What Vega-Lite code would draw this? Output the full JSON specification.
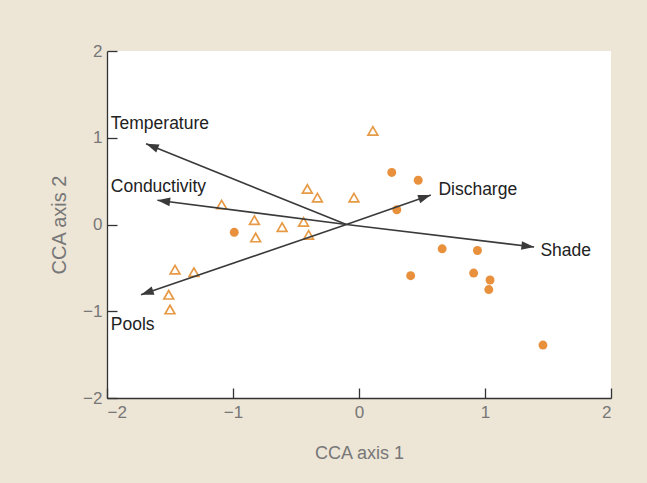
{
  "$schema": "https://vega.github.io/schema/vega-lite/v6.json",
  "width": 504,
  "height": 347,
  "autosize": {"type": "none"},
  "padding": {"left": 107, "top": 51, "right": 36, "bottom": 85},
  "background": "#ede5d6",
  "config": {
    "font": "Liberation Sans",
    "view": {"fill": "#ffffff", "stroke": null},
    "axis": {
      "grid": false,
      "domainColor": "#333333",
      "domainWidth": 1.3,
      "tickColor": "#333333",
      "tickWidth": 1.3,
      "tickSize": -10,
      "labelColor": "#777777",
      "labelFontSize": 17,
      "titleColor": "#777777",
      "titleFontWeight": "normal",
      "titleFont": "Liberation Sans",
      "labelFont": "Liberation Sans",
      "format": "d"
    }
  },
  "datasets": {
    "triangles": [
      {"x": 0.11, "y": 1.08},
      {"x": -0.41, "y": 0.41},
      {"x": -0.33, "y": 0.31},
      {"x": -0.04, "y": 0.31},
      {"x": -1.09, "y": 0.23},
      {"x": -0.83, "y": 0.05},
      {"x": -0.61, "y": -0.03},
      {"x": -0.44, "y": 0.03},
      {"x": -0.82, "y": -0.15},
      {"x": -0.40, "y": -0.12},
      {"x": -1.46, "y": -0.52},
      {"x": -1.31, "y": -0.55},
      {"x": -1.51, "y": -0.81},
      {"x": -1.50, "y": -0.98}
    ],
    "circles": [
      {"x": -0.99, "y": -0.09},
      {"x": 0.26, "y": 0.60},
      {"x": 0.47, "y": 0.51},
      {"x": 0.30, "y": 0.17},
      {"x": 0.66, "y": -0.28},
      {"x": 0.94, "y": -0.30},
      {"x": 0.41, "y": -0.59},
      {"x": 0.91, "y": -0.56},
      {"x": 1.04, "y": -0.64},
      {"x": 1.03, "y": -0.75},
      {"x": 1.46, "y": -1.39}
    ],
    "vectors": [
      {"name": "Temperature", "ox": -0.1, "oy": 0, "x": -1.69, "y": 0.93, "lx": -1.97, "ly": 1.16},
      {"name": "Conductivity", "ox": -0.1, "oy": 0, "x": -1.60, "y": 0.28, "lx": -1.97, "ly": 0.43},
      {"name": "Discharge", "ox": -0.1, "oy": 0, "x": 0.57, "y": 0.34, "lx": 0.63, "ly": 0.40},
      {"name": "Shade", "ox": -0.1, "oy": 0, "x": 1.39, "y": -0.26, "lx": 1.44, "ly": -0.30},
      {"name": "Pools", "ox": -0.1, "oy": 0, "x": -1.73, "y": -0.81, "lx": -1.97, "ly": -1.16}
    ]
  },
  "layer": [
    {
      "data": {"name": "triangles"},
      "mark": {"type": "point", "shape": "triangle-up", "filled": false, "stroke": "#e79a45", "strokeWidth": 1.7, "size": 95, "opacity": 1},
      "encoding": {
        "x": {
          "field": "x", "type": "quantitative",
          "scale": {"domain": [-2, 2], "nice": false, "zero": false},
          "axis": {"values": [-2, -1, 0, 1, 2], "title": "CCA axis 1", "titleFontSize": 18, "labelPadding": 16, "titlePadding": 24}
        },
        "y": {
          "field": "y", "type": "quantitative",
          "scale": {"domain": [-2, 2], "nice": false, "zero": false},
          "axis": {"values": [-2, -1, 0, 1, 2], "title": "CCA axis 2", "titleFontSize": 20, "labelPadding": 15, "titlePadding": 13}
        }
      }
    },
    {
      "data": {"name": "circles"},
      "mark": {"type": "point", "shape": "circle", "filled": true, "fill": "#e8903c", "size": 80, "opacity": 1},
      "encoding": {
        "x": {"field": "x", "type": "quantitative"},
        "y": {"field": "y", "type": "quantitative"}
      }
    },
    {
      "data": {"name": "vectors"},
      "mark": {"type": "rule", "color": "#3a3a3a", "strokeWidth": 1.6},
      "encoding": {
        "x": {"field": "ox", "type": "quantitative"},
        "y": {"field": "oy", "type": "quantitative"},
        "x2": {"field": "x"},
        "y2": {"field": "y"}
      }
    },
    {
      "data": {"name": "vectors"},
      "transform": [
        {"calculate": "atan2(-(datum.y - datum.oy) * 86.75, (datum.x - datum.ox) * 126) * 180 / PI", "as": "heading"}
      ],
      "mark": {"type": "point", "shape": "M0,0L-1,-0.34L-1,0.34Z", "filled": true, "fill": "#3a3a3a", "size": 650, "opacity": 1},
      "encoding": {
        "x": {"field": "x", "type": "quantitative"},
        "y": {"field": "y", "type": "quantitative"},
        "angle": {"field": "heading", "type": "quantitative", "scale": null}
      }
    },
    {
      "data": {"name": "vectors"},
      "mark": {"type": "text", "align": "left", "baseline": "middle", "fontSize": 17.5, "color": "#222222", "font": "Liberation Sans"},
      "encoding": {
        "x": {"field": "lx", "type": "quantitative"},
        "y": {"field": "ly", "type": "quantitative"},
        "text": {"field": "name"}
      }
    }
  ]
}
